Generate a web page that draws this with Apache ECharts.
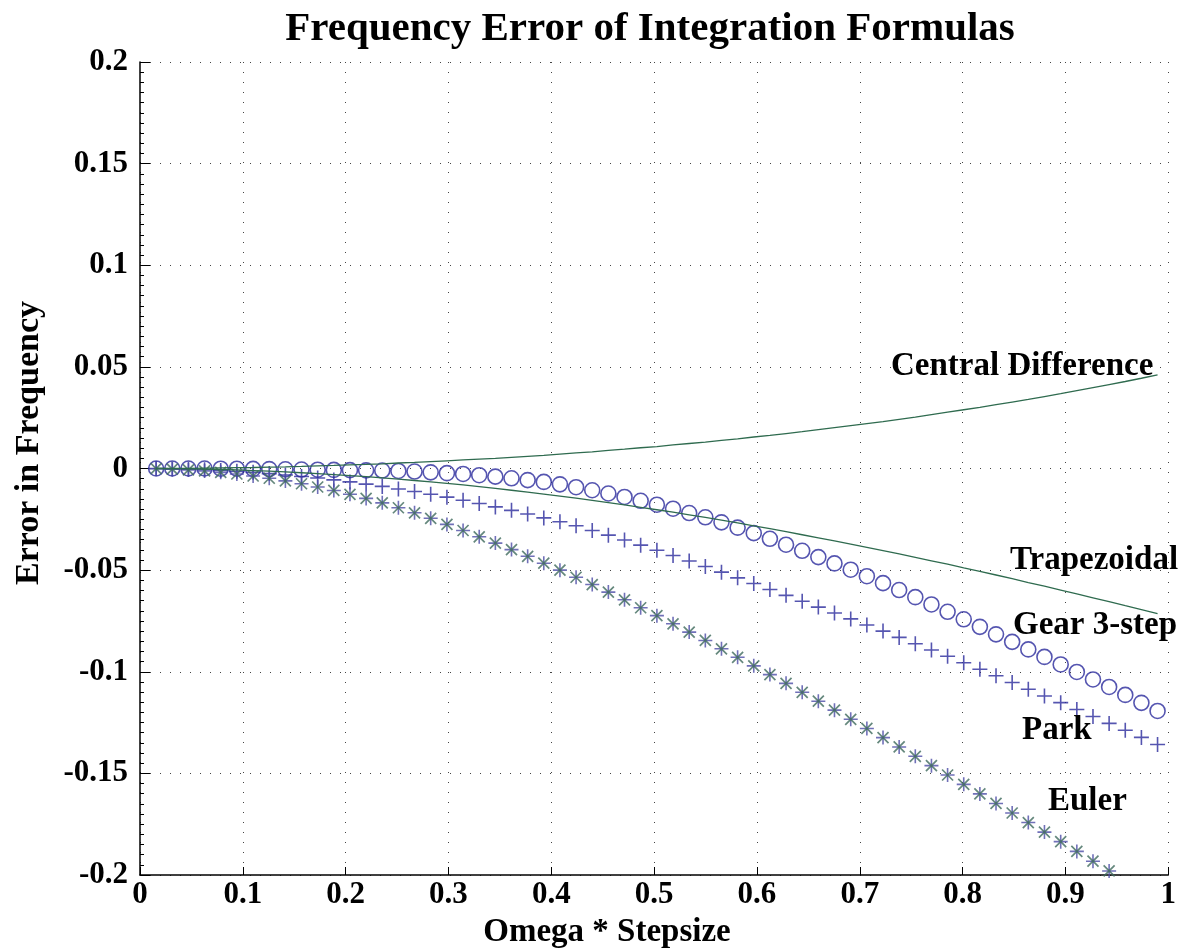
<!DOCTYPE html>
<html>
<head>
<meta charset="utf-8">
<title>Frequency Error of Integration Formulas</title>
<script src="https://cdn.jsdelivr.net/npm/echarts@6/dist/echarts.min.js"></script>
<style>
  html, body { margin: 0; padding: 0; background: #fff; }
  #chart { width: 1179px; height: 952px; }
</style>
</head>
<body>
<div id="chart"></div>
<script>
// ---------------------------------------------------
//  DATOS
// ---------------------------------------------------
const omegaH = [
  0.0157, 0.0314, 0.0471, 0.0628, 0.0785, 0.0942, 0.1100, 0.1257, 0.1414, 0.1571,
  0.1728, 0.1885, 0.2042, 0.2199, 0.2356, 0.2513, 0.2670, 0.2827, 0.2985, 0.3142,
  0.3299, 0.3456, 0.3613, 0.3770, 0.3927, 0.4084, 0.4241, 0.4398, 0.4555, 0.4712,
  0.4869, 0.5027, 0.5184, 0.5341, 0.5498, 0.5655, 0.5812, 0.5969, 0.6126, 0.6283,
  0.6440, 0.6597, 0.6754, 0.6912, 0.7069, 0.7226, 0.7383, 0.7540, 0.7697, 0.7854,
  0.8011, 0.8168, 0.8325, 0.8482, 0.8639, 0.8796, 0.8954, 0.9111, 0.9268, 0.9425,
  0.9582, 0.9739, 0.9896
];

const centralDiff = [
  0.0000, 0.0000, 0.0001, 0.0002, 0.0003, 0.0004, 0.0005, 0.0007, 0.0008, 0.0010,
  0.0013, 0.0015, 0.0018, 0.0020, 0.0023, 0.0027, 0.0030, 0.0034, 0.0038, 0.0042,
  0.0046, 0.0050, 0.0055, 0.0060, 0.0065, 0.0071, 0.0077, 0.0082, 0.0089, 0.0095,
  0.0102, 0.0108, 0.0116, 0.0123, 0.0130, 0.0138, 0.0146, 0.0155, 0.0163, 0.0172,
  0.0181, 0.0191, 0.0201, 0.0211, 0.0221, 0.0231, 0.0242, 0.0253, 0.0265, 0.0277,
  0.0289, 0.0301, 0.0314, 0.0327, 0.0340, 0.0354, 0.0368, 0.0383, 0.0398, 0.0413,
  0.0428, 0.0444, 0.0461
];

const trapezoidal = [
  0.0000, -0.0001, -0.0002, -0.0003, -0.0005, -0.0007, -0.0010, -0.0013, -0.0017, -0.0021,
  -0.0025, -0.0030, -0.0035, -0.0040, -0.0046, -0.0052, -0.0059, -0.0066, -0.0073, -0.0081,
  -0.0089, -0.0098, -0.0107, -0.0116, -0.0126, -0.0136, -0.0146, -0.0157, -0.0168, -0.0179,
  -0.0191, -0.0203, -0.0215, -0.0228, -0.0241, -0.0254, -0.0268, -0.0282, -0.0296, -0.0311,
  -0.0326, -0.0341, -0.0356, -0.0372, -0.0388, -0.0404, -0.0420, -0.0437, -0.0454, -0.0471,
  -0.0489, -0.0506, -0.0524, -0.0542, -0.0561, -0.0579, -0.0598, -0.0617, -0.0636, -0.0655,
  -0.0675, -0.0694, -0.0714
];

const gear3 = [
  0.0000, 0.0000, 0.0000, 0.0000, -0.0001, -0.0001, -0.0002, -0.0003, -0.0004, -0.0005,
  -0.0006, -0.0007, -0.0008, -0.0009, -0.0010, -0.0012, -0.0015, -0.0019, -0.0023, -0.0027,
  -0.0033, -0.0040, -0.0048, -0.0057, -0.0066, -0.0078, -0.0092, -0.0107, -0.0123, -0.0140,
  -0.0159, -0.0178, -0.0198, -0.0219, -0.0240, -0.0265, -0.0291, -0.0318, -0.0346, -0.0375,
  -0.0405, -0.0436, -0.0467, -0.0498, -0.0530, -0.0564, -0.0598, -0.0633, -0.0669, -0.0705,
  -0.0742, -0.0779, -0.0816, -0.0853, -0.0890, -0.0927, -0.0964, -0.1001, -0.1038, -0.1075,
  -0.1114, -0.1153, -0.1193
];

const park = [
  0.0000, -0.0002, -0.0004, -0.0006, -0.0010, -0.0014, -0.0019, -0.0025, -0.0032, -0.0039,
  -0.0047, -0.0056, -0.0066, -0.0077, -0.0088, -0.0101, -0.0113, -0.0127, -0.0141, -0.0156,
  -0.0172, -0.0189, -0.0206, -0.0224, -0.0243, -0.0262, -0.0282, -0.0305, -0.0328, -0.0352,
  -0.0377, -0.0402, -0.0428, -0.0455, -0.0482, -0.0510, -0.0538, -0.0566, -0.0595, -0.0624,
  -0.0653, -0.0682, -0.0711, -0.0740, -0.0770, -0.0800, -0.0831, -0.0862, -0.0893, -0.0924,
  -0.0956, -0.0988, -0.1020, -0.1053, -0.1086, -0.1119, -0.1152, -0.1186, -0.1220, -0.1254,
  -0.1288, -0.1323, -0.1358
];

// Euler: solo los puntos visibles (los demás caen por debajo de -0.2)
const euler = [
  -0.0001, -0.0003, -0.0007, -0.0012, -0.0019, -0.0027, -0.0037, -0.0048, -0.0061, -0.0075,
  -0.0091, -0.0108, -0.0127, -0.0147, -0.0169, -0.0193, -0.0218, -0.0245, -0.0275, -0.0305,
  -0.0336, -0.0367, -0.0399, -0.0432, -0.0466, -0.0500, -0.0535, -0.0571, -0.0608, -0.0646,
  -0.0685, -0.0724, -0.0764, -0.0805, -0.0846, -0.0887, -0.0929, -0.0971, -0.1014, -0.1057,
  -0.1101, -0.1145, -0.1189, -0.1234, -0.1279, -0.1324, -0.1370, -0.1416, -0.1462, -0.1508,
  -0.1554, -0.1601, -0.1648, -0.1695, -0.1742, -0.1789, -0.1836, -0.1884, -0.1932, -0.1980
];

const curveLabels = [
  { text: 'Central Difference', x: 891, y: 366 },
  { text: 'Trapezoidal', x: 1010, y: 560 },
  { text: 'Gear 3-step', x: 1013, y: 625 },
  { text: 'Park', x: 1022, y: 730 },
  { text: 'Euler', x: 1048, y: 801 }
];

// ---------------------------------------------------
//  GRÁFICO
// ---------------------------------------------------
(function () {
    const el = document.getElementById('chart');
    const chart = echarts.init(el, null, { renderer: 'canvas' });

    const FONT = '"Liberation Serif", "Times New Roman", serif';
    const BLUE = '#2a2a9c';
    const GREEN = '#2f6b4f';

    const pairs = arr => arr.map((v, i) => [omegaH[i], v]);

    const plusPath = 'path://M0,-1L0,1M-1,0L1,0';
    const crossPath = 'path://M-1,-1L1,1M-1,1L1,-1';

    const gridLine = { show: true, lineStyle: { color: '#444', type: [1, 9], width: 1 } };

    const textEl = (text, x, y, size, align, rot) => ({
        type: 'text', x: x, y: y, rotation: rot || 0, z: 100,
        style: {
            text: text, fill: '#000',
            font: 'bold ' + size + 'px ' + FONT,
            textAlign: align, textVerticalAlign: 'middle'
        }
    });

    const option = {
        animation: false,
        backgroundColor: '#fff',
        grid: { left: 140, right: 10, top: 62, bottom: 77, containLabel: false },
        xAxis: {
            type: 'value',
            min: 0, max: 1, interval: 0.1,
            axisLine: { show: true, onZero: false, lineStyle: { color: '#000', width: 1.5 } },
            axisTick: { show: true, inside: true, length: 8, lineStyle: { color: '#000' } },
            axisLabel: { margin: 4, fontFamily: FONT, fontWeight: 'bold', fontSize: 31, color: '#000' },
            splitLine: gridLine
        },
        yAxis: {
            type: 'value',
            min: -0.2, max: 0.2, interval: 0.05,
            axisLine: { show: true, onZero: false, lineStyle: { color: '#000', width: 1.5 } },
            axisTick: { show: true, inside: true, length: 10, lineStyle: { color: '#000' } },
            minorTick: { show: true, splitNumber: 10, length: 4, lineStyle: { color: '#000' } },
            axisLabel: { margin: 12, fontFamily: FONT, fontWeight: 'bold', fontSize: 31, color: '#000' },
            splitLine: gridLine
        },
        graphic: [
            textEl('Frequency Error of Integration Formulas', 650, 29, 41, 'center'),
            textEl('Error in Frequency', 29, 443, 34, 'center', Math.PI / 2),
            textEl('Omega * Stepsize', 607, 932, 33, 'center')
        ].concat(curveLabels.map(l => textEl(l.text, l.x, l.y, 33, 'left'))),
        series: [
            {
                name: 'Central Difference', type: 'line', data: pairs(centralDiff),
                showSymbol: false, lineStyle: { color: GREEN, width: 1.3 }, silent: true
            },
            {
                name: 'Trapezoidal', type: 'line', data: pairs(trapezoidal),
                showSymbol: false, lineStyle: { color: GREEN, width: 1.3 }, silent: true
            },
            {
                name: 'Gear 3-step', type: 'scatter', data: pairs(gear3),
                symbol: 'circle', symbolSize: 15, silent: true,
                itemStyle: { color: 'none', borderColor: BLUE, borderWidth: 1.6 }
            },
            {
                name: 'Park', type: 'scatter', data: pairs(park),
                symbol: plusPath, symbolSize: 15, silent: true,
                itemStyle: { color: 'none', borderColor: BLUE, borderWidth: 1.6 }
            },
            {
                name: 'Euler', type: 'scatter', data: pairs(euler),
                symbol: plusPath, symbolSize: 14, silent: true,
                itemStyle: { color: 'none', borderColor: '#4c4ca6', borderWidth: 1.6 }
            },
            {
                name: 'Euler', type: 'scatter', data: pairs(euler),
                symbol: crossPath, symbolSize: 11, silent: true,
                itemStyle: { color: 'none', borderColor: '#3e6a5c', borderWidth: 1.7 }
            }
        ]
    };

    chart.setOption(option);
})();
</script>
</body>
</html>
